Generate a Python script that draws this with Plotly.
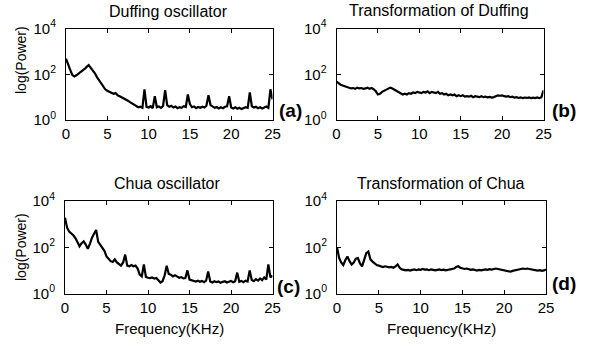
import plotly.graph_objects as go

freq = [0, 0.25, 0.5, 0.75, 1, 1.25, 1.5, 1.75, 2, 2.25, 2.5, 2.75, 3, 3.25, 3.5, 3.75,
        4, 4.25, 4.5, 4.75, 5, 5.25, 5.5, 5.75, 6, 6.25, 6.5, 6.75, 7, 7.25, 7.5, 7.75,
        8, 8.25, 8.5, 8.75, 9, 9.25, 9.5, 9.75, 10, 10.25, 10.5, 10.75, 11, 11.25, 11.5, 11.75,
        12, 12.25, 12.5, 12.75, 13, 13.25, 13.5, 13.75, 14, 14.25, 14.5, 14.75, 15, 15.25, 15.5, 15.75,
        16, 16.25, 16.5, 16.75, 17, 17.25, 17.5, 17.75, 18, 18.25, 18.5, 18.75, 19, 19.25, 19.5, 19.75,
        20, 20.25, 20.5, 20.75, 21, 21.25, 21.5, 21.75, 22, 22.25, 22.5, 22.75, 23, 23.25, 23.5, 23.75,
        24, 24.25, 24.5, 24.75, 25]

duffing = [480, 300, 160, 95, 80, 90, 105, 120, 140, 170, 210, 250, 190, 150, 110, 75,
           55, 40, 30, 22, 19, 17, 16, 14, 15, 12, 11, 10, 9, 8, 7, 6,
           5.2, 4.5, 4.2, 3.6, 3.8, 3.4, 22, 3.7, 3.5, 4.0, 3.3, 11, 3.6, 3.9, 3.4, 4.1,
           20, 4.5, 3.8, 4.2, 3.5, 3.9, 3.3, 3.6, 3.4, 4.0, 3.7, 13, 5, 3.6, 3.9, 3.3,
           3.7, 3.4, 3.8, 3.5, 4.2, 12, 4.5, 3.9, 3.4, 3.7, 3.2, 3.6, 3.3, 3.8, 4.0, 11,
           3.5, 3.2, 3.6, 3.1, 3.4, 3.0, 3.3, 3.6, 3.4, 16, 4.0, 3.5, 3.8, 3.3, 3.6, 3.2,
           3.5, 3.9, 3.4, 22, 8]

trans_duffing = [48, 40, 35, 32, 30, 28, 26, 24, 25, 23, 26, 24, 25, 23, 24, 26,
                 23, 25, 22, 18, 13, 14, 17, 19, 21, 23, 26, 24, 21, 18, 16, 14,
                 13, 14, 13, 15, 14, 16, 15, 17, 16, 15, 17, 16, 18, 15, 17, 16,
                 15, 17, 14, 15, 13, 14, 12, 13, 12, 13, 11, 12, 11, 12, 10.5, 11,
                 10.5, 11.5, 10, 11, 10.5, 10, 11, 10, 10.5, 9.8, 10.2, 9.6, 10, 11, 12, 11.5,
                 12, 11, 10.5, 11, 10, 10.5, 9.5, 10, 9.2, 9.8, 9, 9.6, 9.2, 9.8, 9, 9.5,
                 9.1, 9.7, 9, 10, 20]

chua = [1900, 700, 480, 400, 330, 250, 160, 110, 150, 180, 130, 85, 140, 260, 380, 560,
        170, 130, 95, 70, 40, 32, 25, 23, 30, 22, 18, 16, 22, 48, 16, 15,
        17, 15, 16, 12, 6.5, 5.5, 18, 5.2, 4.8, 4.6, 4.9, 4.4, 4.7, 3.6, 3.0, 3.4,
        6, 16, 7, 6.5, 5.5, 6.2, 5.2, 4.8, 5.1, 4.5, 4.7, 10, 4, 3.8, 3.5, 3.3,
        3.6, 3.2, 3.5, 3.1, 3.6, 9, 3.3, 3.0, 3.4, 3.1, 3.3, 2.9, 3.2, 3.4, 3.0, 3.3,
        3.5, 3.1, 3.4, 8, 3.2, 3.5, 3.1, 3.6, 3.3, 10, 3.8, 3.4, 4.2, 3.6, 4.5, 3.8,
        5, 4, 18, 5, 6]

trans_chua = [100, 35, 22, 17, 28, 40, 25, 18, 22, 32, 34, 20, 15, 30, 55, 65,
              30, 24, 20, 17, 16, 15, 14, 15, 14, 13.5, 14, 13, 15, 18, 13, 11,
              10.5, 10, 10.5, 9.8, 10.5, 11, 10.2, 11, 10.5, 11.5, 10.8, 11, 10.2, 11, 10.5, 10,
              10.5, 11, 10.2, 10.8, 10, 10.5, 10.8, 11, 12, 14, 15, 13, 12, 11.5, 12, 11,
              10.5, 11, 10.2, 9.8, 10.5, 10, 10.5, 11, 10.5, 11.2, 10.8, 11.5, 12, 11.5, 11, 10.5,
              10, 9.5, 9, 8.8, 9.5, 10, 10.5, 11, 11.5, 12, 11.5, 12, 11.5, 11, 10.5, 10,
              9.8, 10.2, 9.5, 10, 11]

titles = ["Duffing oscillator", "Transformation of Duffing", "Chua oscillator", "Transformation of Chua"]
panel_labels = ["(a)", "(b)", "(c)", "(d)"]
x_ticks = [0, 5, 10, 15, 20, 25]
y_tickvals = [1, 100, 10000]
y_ticktext = ["10<sup>0</sup>", "10<sup>2</sup>", "10<sup>4</sup>"]

W, H = 604, 346
FONT = "Liberation Sans, Arial, sans-serif"

def px_x(p):
    return p / W

def px_y(p):
    return 1 - p / H

panels = [
    (duffing, 66, 272.5, 28.5, 120, (168, 12), (290, 111)),
    (trans_duffing, 336.5, 543.5, 28.5, 120, (439, 11), (564, 110)),
    (chua, 65, 272.5, 201, 293.5, (167, 184), (288, 286)),
    (trans_chua, 337, 546, 201, 293.5, (441, 184), (564, 283)),
]

fig = go.Figure()
annotations = []
for i, (series, xl, xr, yt, yb, tc, lc) in enumerate(panels):
    n = i + 1
    xa = "x" if n == 1 else f"x{n}"
    ya = "y" if n == 1 else f"y{n}"
    fig.add_trace(go.Scatter(x=freq, y=series, mode="lines",
                             line=dict(color="black", width=2.2),
                             xaxis=xa, yaxis=ya, showlegend=False))
    axis_common = dict(showline=True, linecolor="black", linewidth=1, mirror="ticks",
                       ticks="inside", ticklen=4, tickcolor="black", showgrid=False,
                       zeroline=False, automargin=False,
                       tickfont=dict(family=FONT, size=15, color="black"))
    fig.layout[f"xaxis{'' if n == 1 else n}"] = dict(
        domain=[px_x(xl), px_x(xr)], anchor=ya, range=[0, 25],
        tickvals=x_ticks, ticktext=[str(t) for t in x_ticks], **axis_common)
    fig.layout[f"yaxis{'' if n == 1 else n}"] = dict(
        domain=[px_y(yb), px_y(yt)], anchor=xa, type="log", range=[0, 4],
        tickvals=y_tickvals, ticktext=y_ticktext, ticklabelstandoff=6, **axis_common)
    annotations.append(dict(text=titles[i], x=px_x(tc[0]), y=px_y(tc[1]), xref="paper", yref="paper",
                            xanchor="center", yanchor="middle", showarrow=False,
                            font=dict(family=FONT, size=16, color="black")))
    annotations.append(dict(text="<b>" + panel_labels[i] + "</b>", x=px_x(lc[0]), y=px_y(lc[1]),
                            xref="paper", yref="paper", xanchor="center", yanchor="middle",
                            showarrow=False, font=dict(family=FONT, size=19, color="black")))

for (cx, cy) in [(21, 60), (21, 247)]:
    annotations.append(dict(text="log(Power)", x=px_x(cx), y=px_y(cy), xref="paper", yref="paper",
                            xanchor="center", yanchor="middle", textangle=-90, showarrow=False,
                            font=dict(family=FONT, size=14, color="black")))
for cx in [169, 441]:
    annotations.append(dict(text="Frequency(KHz)", x=px_x(cx), y=px_y(328), xref="paper", yref="paper",
                            xanchor="center", yanchor="middle", showarrow=False,
                            font=dict(family=FONT, size=15, color="black")))

fig.update_layout(width=W, height=H, margin=dict(l=0, r=0, t=0, b=0),
                  paper_bgcolor="white", plot_bgcolor="white", annotations=annotations)

fig.write_html("out.html", config={"displayModeBar": False},
               post_script="document.body.style.margin='0px';document.body.style.overflow='hidden';")
